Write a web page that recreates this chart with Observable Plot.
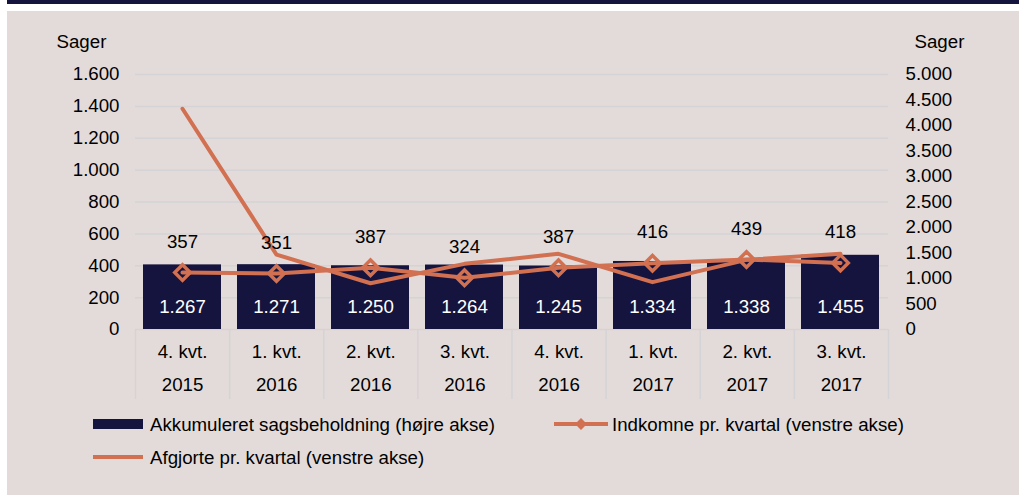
<!DOCTYPE html>
<html><head><meta charset="utf-8">
<script src="https://cdn.jsdelivr.net/npm/d3@7"></script>
<script src="https://cdn.jsdelivr.net/npm/@observablehq/plot@0.6"></script>
<style>
body{margin:0;background:#fff;width:1019px;height:495px;overflow:hidden;position:relative;font-family:"Liberation Sans",Arial,Helvetica,sans-serif;}
#strip{position:absolute;left:7px;top:0;width:1012px;height:4px;background:#15143e;}
#panel{position:absolute;left:7px;top:11px;width:1012px;height:484px;background:#e3dbd9;}
#main{position:absolute;left:0;top:0}
#table{position:absolute;left:0;top:318px}
#legend{position:absolute;left:0;top:390px}
svg{overflow:visible}
</style></head><body>
<div id="strip"></div>
<div id="panel"><div id="main"></div><div id="table"></div><div id="legend"></div></div>
<script>
// ---- data ----
const quarters = ["4. kvt.","1. kvt.","2. kvt.","3. kvt.","4. kvt.","1. kvt.","2. kvt.","3. kvt."];
const years = ["2015","2016","2016","2016","2016","2017","2017","2017"];
const beholdning = [1267,1271,1250,1264,1245,1334,1338,1455]; // højre akse
const indkomne = [357,351,387,324,387,416,439,418];            // venstre akse
const afgjorte = [1385,470,290,412,475,297,437,475];           // venstre akse
const leftTicks = [0,200,400,600,800,1000,1200,1400,1600];
const rightTicks = [0,500,1000,1500,2000,2500,3000,3500,4000,4500,5000];
const legendLabels = ["Akkumuleret sagsbeholdning (højre akse)","Indkomne pr. kvartal (venstre akse)","Afgjorte pr. kvartal (venstre akse)"];
const axisTitle = "Sager";

const NAVY = "#15143e", ORANGE = "#d27052", GRID = "#d5d3d6", FONT = '"Liberation Sans",Arial,Helvetica,sans-serif';
const FS = 18.7;
const leftMax = 1600, rightMax = 5000, k = leftMax / rightMax;
const fmt = d3.formatLocale({decimal:",", thousands:".", grouping:[3], currency:["",""]}).format(",");

const categories = quarters.map((q,i) => q + " " + years[i]);
const rows = categories.map((c,i) => ({c, q: quarters[i], yr: years[i], b: beholdning[i], ind: indkomne[i], afg: afgjorte[i], i}));

const W = 1012, ML = 128, MR = 131;
const T = {fill: "#000", fontSize: FS, lineAnchor: "middle"};
const main = Plot.plot({
  width: W, height: 320, marginLeft: ML, marginRight: MR, marginTop: 63, marginBottom: 2,
  style: {background: "transparent", fontFamily: FONT, fontSize: FS + "px", color: "#000", overflow: "visible"},
  x: {domain: categories, paddingInner: 0.17, paddingOuter: 0.085, axis: null},
  y: {domain: [0, leftMax], axis: null},
  marks: [
    Plot.ruleY(leftTicks, {stroke: GRID, strokeWidth: 1.5}),
    Plot.barY(rows, {x: "c", y: d => d.b * k, fill: NAVY}),
    Plot.text(rows, {...T, x: "c", text: d => fmt(d.b), frameAnchor: "bottom", dy: -22, fill: "#fff"}),
    Plot.line(rows, {x: "c", y: "afg", stroke: ORANGE, strokeWidth: 4}),
    Plot.line(rows, {x: "c", y: "ind", stroke: ORANGE, strokeWidth: 4}),
    Plot.dot(rows, {x: "c", y: "ind", symbol: "diamond2", r: 7, stroke: ORANGE, strokeWidth: 3.5, fill: "none"}),
    Plot.text(rows, {...T, x: "c", y: "ind", text: d => fmt(d.ind), dy: -31}),
    Plot.text(leftTicks, {...T, y: d => d, text: d => fmt(d), frameAnchor: "left", dx: -16, textAnchor: "end"}),
    Plot.text(rightTicks, {...T, y: d => d * k, text: d => fmt(d), frameAnchor: "right", dx: 17, textAnchor: "start"}),
    Plot.text([axisTitle], {...T, text: d => d, frameAnchor: "top-left", dx: -79, dy: -32, textAnchor: "start"}),
    Plot.text([axisTitle], {...T, text: d => d, frameAnchor: "top-right", dx: 26, dy: -32, textAnchor: "start"})
  ]
});
document.getElementById("main").appendChild(main);

const table = Plot.plot({
  width: W, height: 70, marginLeft: ML, marginRight: MR, marginTop: 0, marginBottom: 0,
  style: {background: "transparent", fontFamily: FONT, fontSize: FS + "px", color: "#000", overflow: "visible"},
  x: {domain: [0, categories.length], axis: null},
  marks: [
    Plot.ruleX(d3.range(categories.length + 1), {x: d => d, stroke: GRID, strokeWidth: 1.5}),
    Plot.text(rows, {...T, x: d => d.i + 0.5, text: "q", frameAnchor: "top", dy: 23}),
    Plot.text(rows, {...T, x: d => d.i + 0.5, text: "yr", frameAnchor: "top", dy: 56})
  ]
});
document.getElementById("table").appendChild(table);

// legend
const lg = d3.select("#legend").append("svg").attr("width", W).attr("height", 80)
  .style("font-family", FONT).style("font-size", FS + "px");
lg.append("rect").attr("x", 86).attr("y", 18).attr("width", 50).attr("height", 10).attr("fill", NAVY);
lg.append("text").attr("x", 143).attr("y", 23).attr("dy", "0.35em").text(legendLabels[0]);
lg.append("line").attr("x1", 547).attr("x2", 601).attr("y1", 23).attr("y2", 23).attr("stroke", ORANGE).attr("stroke-width", 4);
lg.append("path").attr("d", d3.symbol(d3.symbolDiamond2, 90)()).attr("transform", "translate(574,23)").attr("fill", ORANGE);
lg.append("text").attr("x", 605).attr("y", 23).attr("dy", "0.35em").text(legendLabels[1]);
lg.append("line").attr("x1", 86).attr("x2", 136).attr("y1", 56).attr("y2", 56).attr("stroke", ORANGE).attr("stroke-width", 4);
lg.append("text").attr("x", 143).attr("y", 56).attr("dy", "0.35em").text(legendLabels[2]);
</script>
</body></html>
